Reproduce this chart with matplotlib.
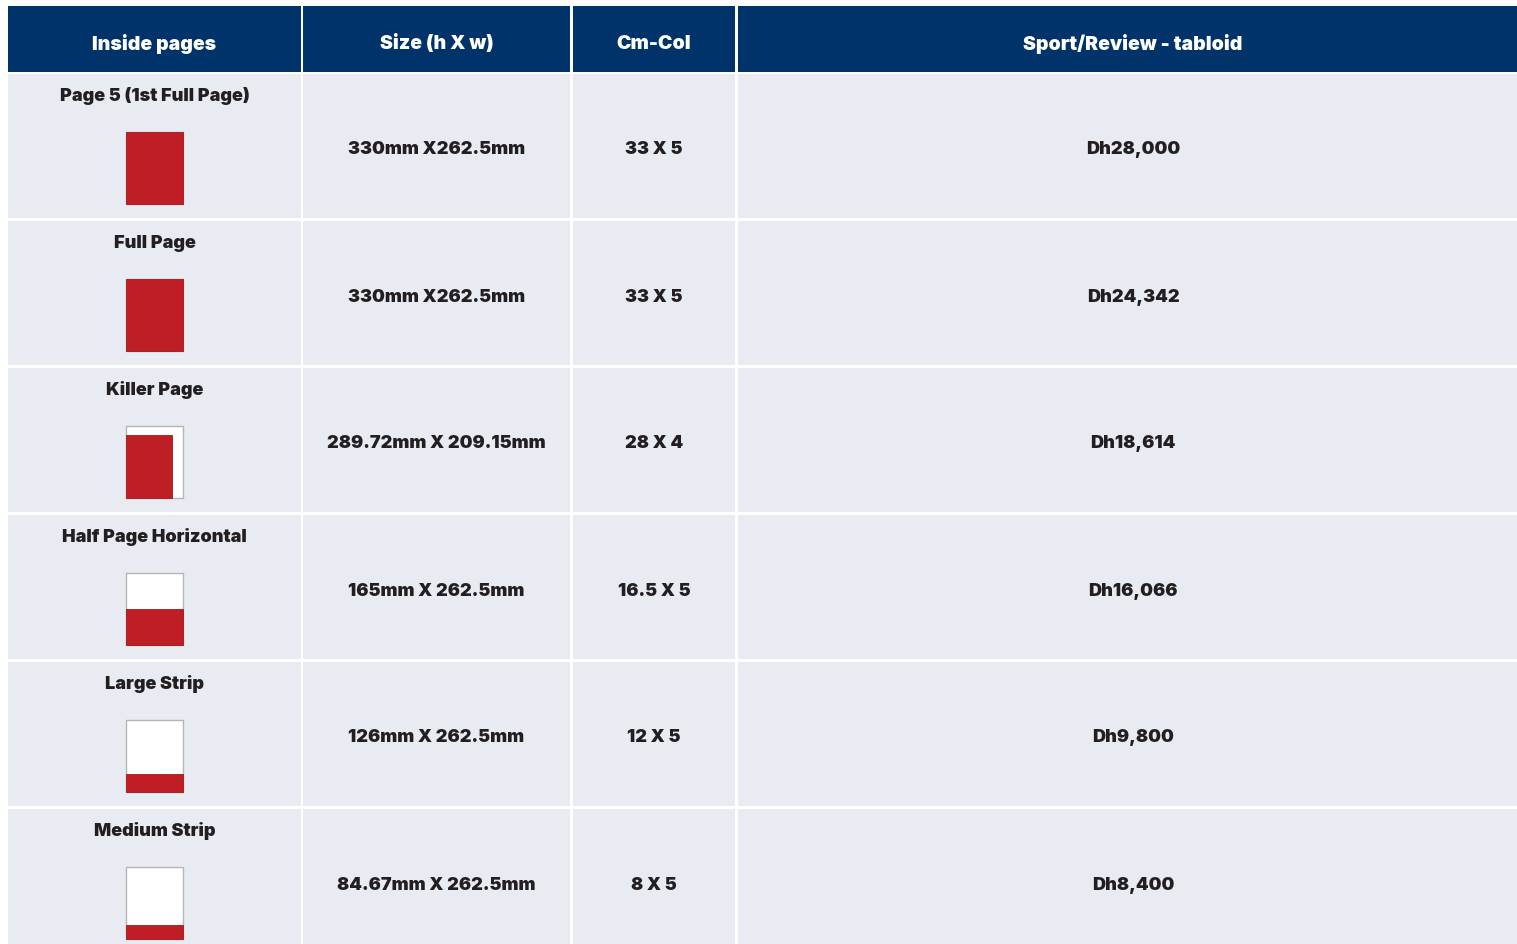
import matplotlib.pyplot as plt
from matplotlib.patches import Rectangle

plt.rcParams['font.family'] = ['Inter', 'DejaVu Sans']

headers = ["Inside pages", "Size (h X w)", "Cm-Col", "Sport/Review - tabloid"]
pages = ["Page 5 (1st Full Page)", "Full Page", "Killer Page",
         "Half Page Horizontal", "Large Strip", "Medium Strip"]
sizes = ["330mm X262.5mm", "330mm X262.5mm", "289.72mm X 209.15mm",
         "165mm X 262.5mm", "126mm X 262.5mm", "84.67mm X 262.5mm"]
cm_col = ["33 X 5", "33 X 5", "28 X 4", "16.5 X 5", "12 X 5", "8 X 5"]
prices = ["Dh28,000", "Dh24,342", "Dh18,614", "Dh16,066", "Dh9,800", "Dh8,400"]
# share of the page icon filled by the ad (height, width)
ad_h = [1.0, 1.0, 0.875, 0.5, 0.25, 0.19]
ad_w = [1.0, 1.0, 0.8, 1.0, 1.0, 1.0]

navy = "#00336a"
cell = "#e8ebf2"
red = "#be1e24"
ink = "#231f20"

W, H = 1517, 945
fig = plt.figure(figsize=(W / 100, H / 100), dpi=100)
ax = fig.add_axes([0, 0, 1, 1])
ax.set_xlim(0, W)
ax.set_ylim(H, 0)
ax.axis("off")

col_x = [8, 303, 573, 738]
col_r = [301, 570, 735, 1528]   # last column runs past the page edge
head_top, head_bot = 7, 73
row_top = 75
row_h = 144
row_gap = 3

# header
for i, text in enumerate(headers):
    ax.add_patch(Rectangle((col_x[i], head_top), col_r[i] - col_x[i],
                           head_bot - head_top, color=navy, lw=0))
    ax.text((col_x[i] + col_r[i]) / 2, (head_top + head_bot) / 2 + 4, text,
            color="white", fontsize=14, fontweight="black",
            ha="center", va="center")

# body rows
for r in range(len(pages)):
    top = row_top + r * (row_h + row_gap)
    bot = min(top + row_h, H)
    mid = top + row_h / 2
    for i in range(4):
        ax.add_patch(Rectangle((col_x[i], top), col_r[i] - col_x[i],
                               bot - top, color=cell, lw=0))
    cx = (col_x[0] + col_r[0]) / 2
    ax.text(cx, top + 21, pages[r], color=ink, fontsize=13,
            fontweight="black", ha="center", va="center")
    # page icon
    ix, iy, iw, ih = 126, top + 58, 57, 72
    ax.add_patch(Rectangle((ix, iy), iw, ih, facecolor="white",
                           edgecolor="#b5b5b5", lw=1))
    rh = ih * ad_h[r]
    rw = iw * ad_w[r]
    ax.add_patch(Rectangle((ix, iy + ih - rh), rw, rh, facecolor=red,
                           edgecolor="#a0181d", lw=0.6))
    for i, val in zip([1, 2, 3], [sizes[r], cm_col[r], prices[r]]):
        ax.text((col_x[i] + col_r[i]) / 2, mid + 3, val, color=ink,
                fontsize=13, fontweight="black", ha="center", va="center")

fig.savefig("out.png", dpi=100, facecolor="white")
